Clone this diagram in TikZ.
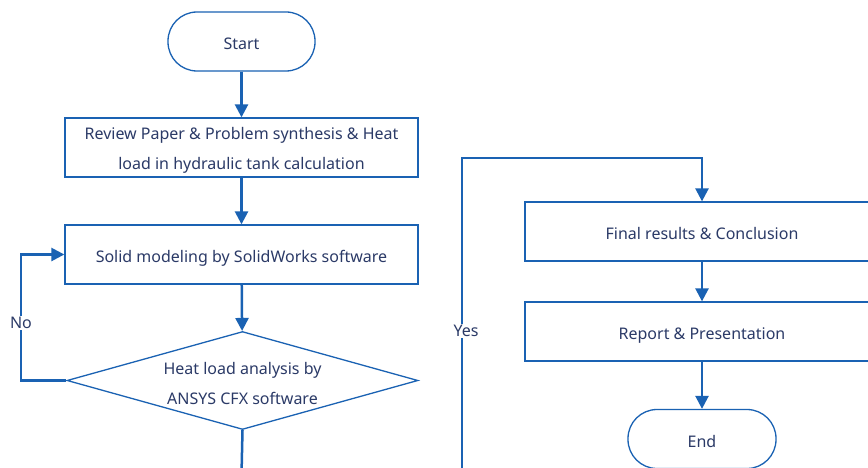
\documentclass[tikz,border=0pt]{standalone}
\usepackage{fontspec}
\setmainfont{Noto Sans}
\usetikzlibrary{shapes.geometric,arrows.meta}
\definecolor{linec}{HTML}{1A62B3}
\definecolor{textc}{HTML}{2B3A67}
\newcommand\fcstrut{\rule{0pt}{18pt}}
\tikzset{
  base/.style={draw=linec, line width=1.3pt, text=textc, font=\fontsize{16}{30}\selectfont, align=center, inner sep=0pt},
  oneline/.style={text height=16pt, text depth=0pt},
  procbox/.style={base, minimum width=353pt, minimum height=59pt},
  termbox/.style={base, oneline, rounded corners=29pt, minimum width=147pt, minimum height=59pt},
  decbox/.style={base, diamond, aspect=3.58, minimum width=351pt, minimum height=98pt},
  flow/.style={draw=linec, line width=2.5pt, -{Triangle[length=13pt,width=13pt]}},
  plain/.style={draw=linec, line width=2.5pt},
  lbl/.style={fill=white, text=textc, font=\fontsize{16}{18}\selectfont, inner sep=1pt}
}
\begin{document}
\begin{tikzpicture}[x=1pt,y=-1pt]
\useasboundingbox (0,0) rectangle (868,468);
\clip (0,0) rectangle (868,468);
\fill[white] (0,0) rectangle (868,468);
\node[termbox] (start) at (241.5,41.5) {Start};
\node[procbox] (review) at (241.5,147.5) {\fcstrut Review Paper \& Problem synthesis \& Heat\\load in hydraulic tank calculation};
\node[procbox, oneline] (solid) at (241.5,254.5) {Solid modeling by SolidWorks software};
\node[decbox] (heat) at (242.5,380.5) {\fcstrut Heat load analysis by\\ANSYS CFX software};
\node[procbox, oneline, minimum width=354pt] (final) at (702,231.5) {Final results \& Conclusion};
\node[procbox, oneline, minimum width=354pt] (report) at (702,331.5) {Report \& Presentation};
\node[termbox, minimum width=148pt] (end) at (702,439) {End};
\coordinate (bot) at (241.5,475);
\coordinate (ybot) at (462,475);
\coordinate (ytop) at (462,158);
\coordinate (ntl) at (21,254.5);
\coordinate (nbl) at (21,380.5);
\draw[flow] (start) -- (review);
\draw[flow] (review) -- (solid);
\draw[flow] (solid) -- (heat);
\draw[plain] (heat.south) -- (bot);
\draw[flow] (heat.west) -- (nbl) -- (ntl) -- (solid.west);
\draw[flow] (ybot) -- (ytop) -| (final.north);
\draw[flow] (final) -- (report);
\draw[flow] (report) -- (end);
\node[lbl] (no) at (21,323) {No};
\node[lbl] (yes) at (466,331) {Yes};
\end{tikzpicture}
\end{document}
